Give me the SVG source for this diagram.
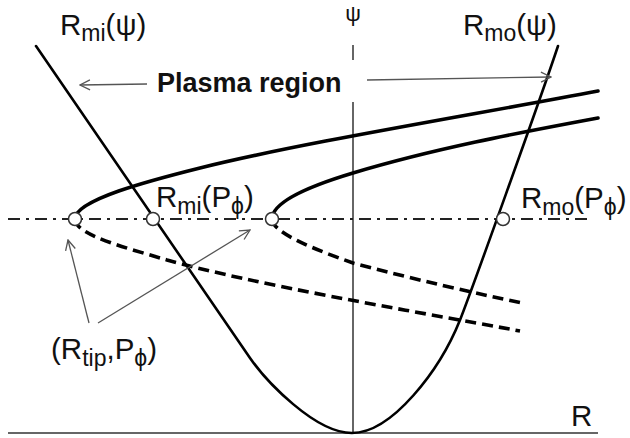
<svg xmlns="http://www.w3.org/2000/svg" width="630" height="438" viewBox="0 0 630 438">
<style>
.ax{stroke:#666;stroke-width:2;fill:none}
.par{stroke:#000;stroke-width:2.6;fill:none;stroke-linecap:round}
.sol{stroke:#000;stroke-width:3.6;fill:none;stroke-linecap:round}
.dsh{stroke:#000;stroke-width:3.6;fill:none;stroke-dasharray:11 6}
.dd{stroke:#222;stroke-width:2;fill:none;stroke-dasharray:12 6 3 6}
.arr{stroke:#555;stroke-width:1.3;fill:none;marker-end:url(#ah)}
.pt{fill:#fff;stroke:#333;stroke-width:1.5}
text{font-family:"Liberation Sans",Arial,sans-serif;fill:#111}
.lb{font-size:29.5px}
.sb{font-size:23px}
.pl{font-size:27px;font-weight:bold}
</style>
<defs>
<marker id="ah" viewBox="0 0 12 12" refX="11" refY="6" markerWidth="12" markerHeight="12" markerUnits="userSpaceOnUse" orient="auto">
<path d="M1,1 L11,6 L1,11" fill="none" stroke="#555" stroke-width="1.3"/>
</marker>
</defs>
<g id="axes">
<line class="ax" x1="8" y1="433" x2="598" y2="433"/>
<line class="ax" x1="353" y1="45" x2="353" y2="433"/>
<line class="dd" x1="8" y1="219" x2="590" y2="219"/>
</g>
<g id="parabola">
<path class="par" d="M36,46 L250,358 C266,381 315,433 352,433 C392,433 440,370 460,320 C470,295 540,100 558,46"/>
</g>
<g id="tip-curves">
<path class="sol" d="M75,219 C75,200 150,180.5 200,168 C300,143 468,115.7 598,91"/>
<path class="sol" d="M272,219 C272,200 318,183.5 353,173 C433,149 518,132.8 598,118"/>
<path class="dsh" d="M75,219 C75,235 127,248 167,260 C257,285 400,308.8 520,331"/>
<path class="dsh" d="M272,219 C272,233 318,250.7 353,263 C413,279 472,292.5 522,303"/>
</g>
<g id="points">
<circle class="pt" cx="75" cy="219" r="6.5"/>
<circle class="pt" cx="153" cy="219" r="6.5"/>
<circle class="pt" cx="272" cy="219" r="6.5"/>
<circle class="pt" cx="503" cy="219" r="6.5"/>
</g>
<g id="plasma-label">
<rect x="152" y="60" width="212" height="42" fill="#fff"/>
<text class="pl" x="157" y="92">Plasma region</text>
</g>
<g id="connectors">
<line class="arr" x1="147" y1="84" x2="80" y2="85"/>
<line class="arr" x1="367" y1="80" x2="551" y2="77"/>
<line class="arr" x1="89" y1="323" x2="68" y2="240"/>
<line class="arr" x1="98" y1="323" x2="250" y2="230"/>
</g>
<g id="labels">
<text class="lb" x="60" y="35">R<tspan class="sb" dy="6">mi</tspan><tspan dy="-6">(ψ)</tspan></text>
<text class="lb" x="463" y="35">R<tspan class="sb" dy="6">mo</tspan><tspan dy="-6">(ψ)</tspan></text>
<text x="353" y="21" text-anchor="middle" font-size="22">ψ</text>
<text class="lb" x="156" y="207">R<tspan class="sb" dy="7">mi</tspan><tspan dy="-7">(P</tspan><tspan class="sb" dy="7">ϕ</tspan><tspan dy="-7">)</tspan></text>
<text class="lb" x="521" y="208">R<tspan class="sb" dy="7">mo</tspan><tspan dy="-7">(P</tspan><tspan class="sb" dy="7">ϕ</tspan><tspan dy="-7">)</tspan></text>
<text class="lb" x="51" y="359">(R<tspan class="sb" dy="7">tip</tspan><tspan dy="-7">,P</tspan><tspan class="sb" dy="7">ϕ</tspan><tspan dy="-7">)</tspan></text>
<text class="lb" x="571" y="426">R</text>
</g>
</svg>
